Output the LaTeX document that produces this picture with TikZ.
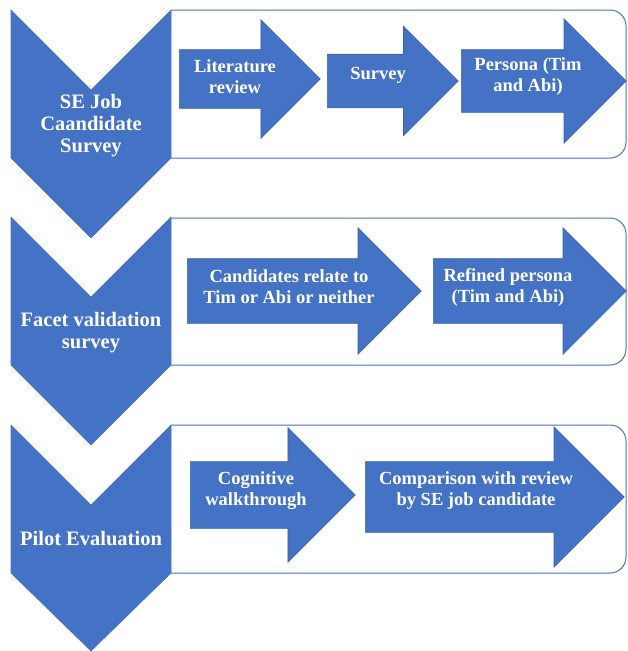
\documentclass[tikz,border=0pt]{standalone}
\usepackage{fontspec}
\setmainfont{Liberation Serif}
\usepackage{tikz}
\usetikzlibrary{shapes.arrows}
\definecolor{officeblue}{HTML}{4472C4}
\definecolor{edgeblue}{HTML}{3A62AC}

\begin{document}
\begin{tikzpicture}[x=1pt,y=-1pt,semithick]
  \tikzstyle{phase}=[fill=officeblue,draw=officeblue,line join=miter]
  \tikzstyle{phase label}=[text=white,font=\bfseries\fontsize{20.5}{22}\selectfont,align=center]
  \tikzstyle{lane}=[draw=officeblue,line width=1pt,rounded corners=16pt]
  \tikzstyle{task}=[single arrow,single arrow tip angle=90,fill=officeblue,
                    draw=edgeblue,line width=0.6pt,inner xsep=0pt,anchor=tail]
  \tikzstyle{task label}=[text=white,font=\bfseries\fontsize{18.5}{21}\selectfont,align=center]

  \useasboundingbox (0,0) rectangle (627,651);

  % lanes behind the steps
  \draw[lane] (171,10) -| (626,158) -- (171,158);
  \draw[lane] (171,218) -| (626,365) -- (171,365);
  \draw[lane] (171,425) -| (626,573) -- (171,573);

  % phases
  \fill[phase] (11,10) -- (91,90) -- (171,10) -- (171,158) -- (91,238) -- (11,158) -- cycle;
  \fill[phase] (11,217) -- (91,297) -- (171,217) -- (171,365) -- (91,445) -- (11,365) -- cycle;
  \fill[phase] (11,425) -- (91,505) -- (171,425) -- (171,573) -- (91,651) -- (11,573) -- cycle;

  \node[phase label] (jobSurvey) at (91,126) {SE Job\\Caandidate\\Survey};
  \node[phase label] (facetSurvey) at (91,333) {Facet validation\\survey};
  \node[phase label] (pilot) at (91,539) {Pilot Evaluation};

  % steps of the first phase
  \node[task,minimum height=141,inner ysep=29,single arrow head extend=30] (lit) at (179,79) {};
  \node[task,minimum height=131,inner ysep=26.5,single arrow head extend=28] (svy) at (327,81) {};
  \node[task,minimum height=165,inner ysep=31,single arrow head extend=31] (per) at (461,81) {};
  \node[task label] (litText) at (235,77) {Literature\\review};
  \node[task label] (svyText) at (378,75) {Survey};
  \node[task label] (perText) at (528,77) {Persona (Tim\\and Abi)};

  % steps of the second phase
  \node[task,minimum height=234,inner ysep=32,single arrow head extend=31] (rel) at (187,291) {};
  \node[task,minimum height=193,inner ysep=32,single arrow head extend=31] (ref) at (433,291) {};
  \node[task label] (relText) at (289,287) {Candidates relate to\\Tim or Abi or neither};
  \node[task label] (refText) at (508,287) {Refined persona\\(Tim and Abi)};

  % steps of the third phase
  \node[task,minimum height=165,inner ysep=33,single arrow head extend=34] (cog) at (190,495) {};
  \node[task,minimum height=259,inner ysep=35,single arrow head extend=35] (cmp) at (365,497) {};
  \node[task label] (cogText) at (256,491) {Cognitive\\walkthrough};
  \node[task label] (cmpText) at (476,491) {Comparison with review\\by SE job candidate};
\end{tikzpicture}
\end{document}
